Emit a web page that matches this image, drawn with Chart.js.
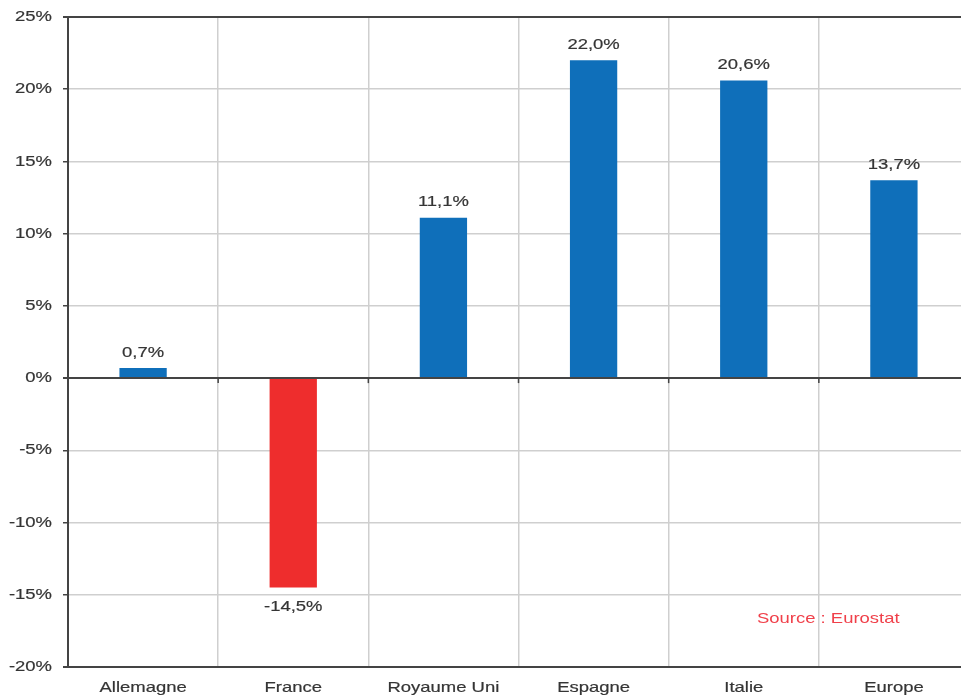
<!DOCTYPE html>
<html lang="fr">
<head>
<meta charset="utf-8">
<title>Evolution par pays</title>
<script src="https://cdn.jsdelivr.net/npm/chart.js@4/dist/chart.umd.min.js"></script>
<style>
  html, body { margin: 0; padding: 0; background: #fff; overflow: hidden; }
  #wrap { width: 969px; height: 700px; }
</style>
</head>
<body>
<div id="wrap"><canvas id="myChart" width="969" height="700"></canvas></div>
<script>
const pays = ['Allemagne', 'France', 'Royaume Uni', 'Espagne', 'Italie', 'Europe'];
const evolution = [0.7, -14.5, 11.1, 22.0, 20.6, 13.7];
const couleurs = ['#0f6fba', '#ee2d2d', '#0f6fba', '#0f6fba', '#0f6fba', '#0f6fba'];
const graduations = [25, 20, 15, 10, 5, 0, -5, -10, -15, -20];
const source = 'Source : Eurostat';

const police = "'Liberation Sans', Arial, sans-serif";
const gris = '#353535';
const etirement = 1.23; // texte un peu elargi horizontalement

function pct(v) {
    return v.toFixed(1).replace('.', ',') + '%';
}

// ecrit un texte elargi, ancre selon align (left / center / right)
function texte(ctx, s, x, y, align, base, epais) {
    ctx.save();
    ctx.translate(x, y);
    ctx.scale(etirement, 1);
    ctx.textAlign = align;
    ctx.textBaseline = base;
    ctx.fillText(s, 0, 0);
    if (epais) {
        ctx.strokeStyle = ctx.fillStyle;
        ctx.lineWidth = epais;
        ctx.strokeText(s, 0, 0);
    }
    ctx.restore();
}

const etiquettes = {
    id: 'etiquettes',
    afterDraw(chart) {
        const ctx = chart.ctx;
        const xs = chart.scales.x;
        const ys = chart.scales.y;
        const meta = chart.getDatasetMeta(0);
        ctx.save();
        ctx.font = '15px ' + police;
        ctx.fillStyle = gris;

        // axe vertical
        graduations.forEach(v => {
            texte(ctx, v + '%', ys.right - 16, ys.getPixelForValue(v), 'right', 'middle', 0.2);
        });
        // categories
        pays.forEach((p, i) => {
            texte(ctx, p, xs.getPixelForTick(i), 688, 'center', 'middle', 0.2);
        });
        // valeurs des barres
        meta.data.forEach((bar, i) => {
            const v = evolution[i];
            if (v >= 0) {
                texte(ctx, pct(v), bar.x, bar.y - 8, 'center', 'bottom', 0.2);
            } else {
                texte(ctx, pct(v), bar.x, bar.y + 12, 'center', 'top', 0.2);
            }
        });

        // petits traits sous la ligne du zero, entre les categories
        ctx.strokeStyle = '#444';
        ctx.lineWidth = 1.5;
        const y0 = ys.getPixelForValue(0);
        for (let i = 1; i < pays.length; i++) {
            const x = (xs.getPixelForTick(i - 1) + xs.getPixelForTick(i)) / 2;
            ctx.beginPath();
            ctx.moveTo(x, y0);
            ctx.lineTo(x, y0 + 5);
            ctx.stroke();
        }

        ctx.fillStyle = '#f0404a';
        texte(ctx, source, 757, 619, 'left', 'middle', 0);
        ctx.restore();
    }
};

const config = {
    type: 'bar',
    data: {
        labels: pays,
        datasets: [{
            data: evolution,
            backgroundColor: couleurs,
            categoryPercentage: 1,
            barPercentage: 0.315
        }]
    },
    options: {
        responsive: false,
        animation: false,
        layout: { padding: { top: 17, right: 0, bottom: 0, left: 0 } },
        plugins: {
            legend: { display: false },
            tooltip: { enabled: false }
        },
        scales: {
            x: {
                offset: true,
                grid: {
                    offset: true,
                    color: '#cfcfcf',
                    lineWidth: 1.5,
                    drawTicks: false
                },
                border: { color: '#444', width: 2 },
                ticks: { display: false },
                afterFit(scale) { scale.height = 33; }
            },
            y: {
                min: -20,
                max: 25,
                ticks: { stepSize: 5, display: false },
                grid: {
                    color: c => (c.tick && [0, 25, -20].includes(c.tick.value)) ? '#444' : '#cfcfcf',
                    lineWidth: c => (c.tick && [0, 25, -20].includes(c.tick.value)) ? 2 : 1.5,
                    tickColor: '#444',
                    tickLength: 5
                },
                border: { color: '#444', width: 2 },
                afterFit(scale) { scale.width = 68; }
            }
        }
    },
    plugins: [etiquettes]
};

new Chart(document.getElementById('myChart'), config);
</script>
</body>
</html>
